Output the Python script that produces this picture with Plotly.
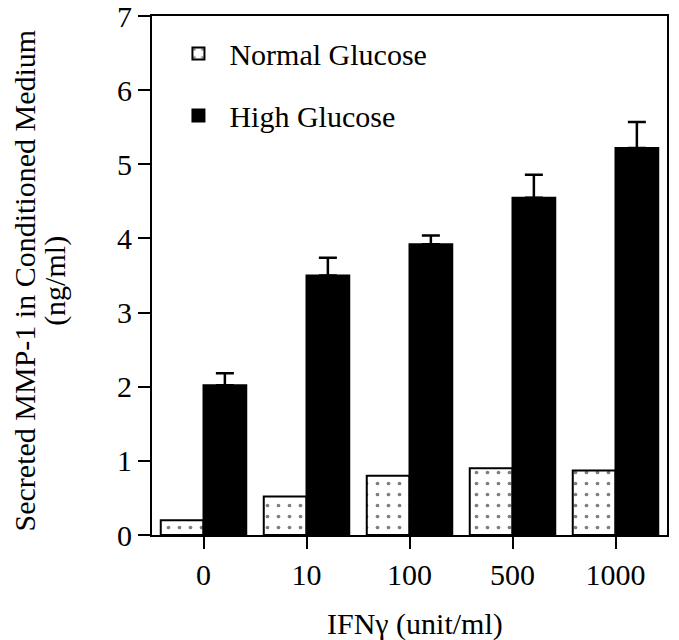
import plotly.graph_objects as go

categories = ["0", "10", "100", "500", "1000"]
normal_glucose = [0.2, 0.52, 0.8, 0.9, 0.87]
high_glucose = [2.02, 3.5, 3.92, 4.55, 5.22]
high_glucose_err = [0.16, 0.24, 0.12, 0.31, 0.35]
y_ticks = [0, 1, 2, 3, 4, 5, 6, 7]

FONT = "Liberation Serif"
FS = 30

fig = go.Figure()
fig.add_trace(go.Bar(
    x=categories, y=normal_glucose, name="Normal Glucose",
    legendgroup="a",
    marker=dict(color="white", line=dict(color="black", width=2),
                pattern=dict(shape=".", fgcolor="black", bgcolor="white",
                             size=11, solidity=0.09)),
))
fig.add_trace(go.Bar(
    x=categories, y=high_glucose, name="High Glucose",
    legendgroup="b",
    marker=dict(color="black", line=dict(color="black", width=2)),
    error_y=dict(type="data", symmetric=False, array=high_glucose_err,
                 arrayminus=[0] * len(high_glucose_err),
                 color="black", thickness=2.5, width=9),
))

fig.update_layout(
    width=671, height=640,
    margin=dict(l=144, r=12, t=8, b=113),
    plot_bgcolor="white", paper_bgcolor="white",
    font=dict(family=FONT, size=FS, color="black"),
    barmode="group", bargap=0.17, bargroupgap=0,
    showlegend=True,
    legend=dict(x=0.03, y=0.978, xanchor="left", yanchor="top",
                bgcolor="rgba(0,0,0,0)", font=dict(size=FS),
                itemwidth=52,
                traceorder="grouped", tracegroupgap=20),
    annotations=[
        dict(text="Secreted MMP-1 in Conditioned Medium", xref="paper",
             yref="paper", x=-0.247, y=0.49, xanchor="center",
             yanchor="middle", textangle=-90, showarrow=False,
             font=dict(size=FS)),
        dict(text="(ng/ml)", xref="paper", yref="paper",
             x=-0.188, y=0.49, xanchor="center", yanchor="middle",
             textangle=-90, showarrow=False, font=dict(size=FS)),
        dict(text="IFNγ (unit/ml)", xref="paper", yref="paper",
             x=0.511, y=-0.171, xanchor="center", yanchor="middle",
             showarrow=False, font=dict(size=FS)),
    ],
)
fig.update_xaxes(
    automargin=False,
    showline=True, linewidth=2, linecolor="black", mirror=True,
    ticks="outside", ticklen=12, tickwidth=2, tickcolor="black",
    showgrid=False, tickfont=dict(size=FS),
)
fig.update_yaxes(
    automargin=False, ticklabeloverflow="allow",
    range=[0, 7], tickvals=y_ticks,
    showline=True, linewidth=2, linecolor="black", mirror=True,
    ticks="outside", ticklen=12, tickwidth=2, tickcolor="black",
    showgrid=False, zeroline=False, tickfont=dict(size=FS),
)

fig.write_html("out.html")
